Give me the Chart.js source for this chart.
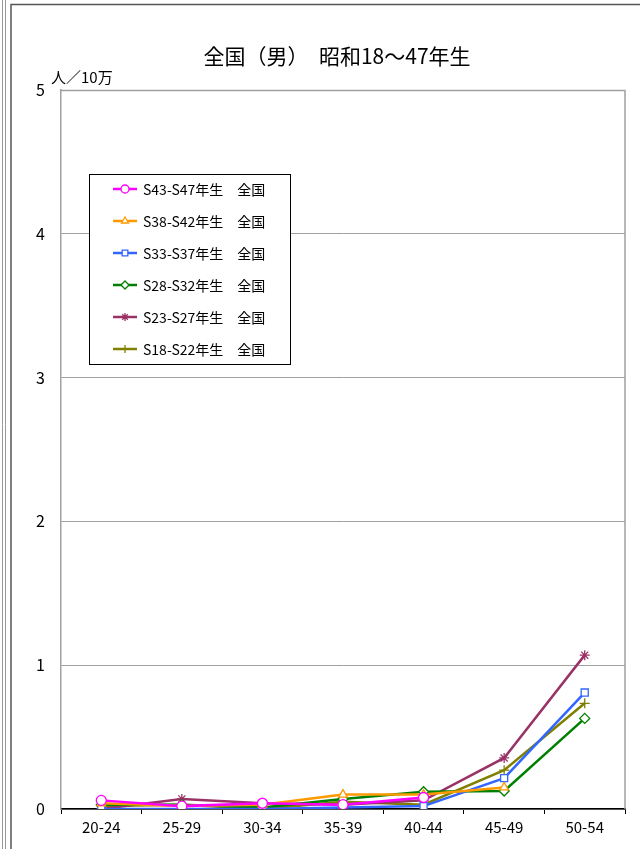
<!DOCTYPE html>
<html>
<head>
<meta charset="utf-8">
<script src="https://cdn.jsdelivr.net/npm/chart.js@4.4.1/dist/chart.umd.min.js"></script>
<style>
  html, body { margin: 0; padding: 0; background: #fff; }
  #wrap { position: relative; width: 640px; height: 849px; }
</style>
</head>
<body>
<div id="wrap"><canvas id="myChart" width="640" height="849"></canvas></div>
<script>
// 年齢階級
var ageGroups = ['20-24', '25-29', '30-34', '35-39', '40-44', '45-49', '50-54'];
var yTicks = [0, 1, 2, 3, 4, 5];

// 人／10万
var s43_47 = [0.06, 0.02, 0.04, 0.03, 0.08, null, null];
var s38_42 = [0.04, 0.02, 0.03, 0.10, 0.10, 0.15, null];
var s33_37 = [0.00, 0.00, 0.00, 0.01, 0.02, 0.215, 0.81];
var s28_32 = [0.03, 0.03, 0.01, 0.07, 0.12, 0.125, 0.63];
var s23_27 = [0.00, 0.07, 0.04, 0.03, 0.06, 0.355, 1.07];
var s18_22 = [0.02, 0.03, 0.00, 0.05, 0.03, 0.27, 0.735];

var seriesLabels = ['S43-S47年生　全国', 'S38-S42年生　全国', 'S33-S37年生　全国',
                    'S28-S32年生　全国', 'S23-S27年生　全国', 'S18-S22年生　全国'];
var seriesColors = ['#ff00ff', '#ff9900', '#3366ff', '#008000', '#993366', '#808000'];
var seriesMarks = ['circle', 'triangle', 'rect', 'rectRot', 'star', 'cross'];
var seriesData = [s43_47, s38_42, s33_37, s28_32, s23_27, s18_22];

var FONT = '"Noto Sans CJK JP", "Noto Sans", sans-serif';

var datasets = [];
for (var i = 0; i < seriesData.length; i++) {
  datasets.push({
    label: seriesLabels[i],
    data: seriesData[i],
    borderColor: seriesColors[i],
    backgroundColor: '#ffffff',
    pointBorderColor: seriesColors[i],
    pointBackgroundColor: '#ffffff',
    pointStyle: seriesMarks[i],
    pointRadius: 5,
    pointBorderWidth: 1.3,
    borderWidth: 2.5,
    tension: 0,
    spanGaps: false
  });
}

// 外枠、タイトル、単位、凡例
var decor = {
  id: 'decor',
  beforeDraw: function(chart) {
    var c = chart.ctx;
    c.save();
    c.fillStyle = '#fff';
    c.fillRect(0, 0, chart.width, chart.height);
    c.strokeStyle = '#999';
    c.lineWidth = 1;
    c.beginPath();
    c.moveTo(2.5, 0); c.lineTo(2.5, 849);
    c.moveTo(5.5, 0); c.lineTo(5.5, 849);
    c.stroke();
    c.strokeStyle = '#555';
    c.lineWidth = 1.5;
    c.beginPath();
    c.moveTo(11, 849); c.lineTo(11, 4.5); c.lineTo(640, 4.5);
    c.stroke();
    c.restore();
  },
  afterDraw: function(chart) {
    var c = chart.ctx;
    var a = chart.chartArea;
    c.save();
    // 上・右の枠
    c.strokeStyle = '#a0a0a0';
    c.lineWidth = 1.5;
    c.beginPath();
    c.moveTo(a.left, a.top + 0.5); c.lineTo(a.right, a.top + 0.5); c.lineTo(a.right, a.bottom);
    c.stroke();

    c.fillStyle = '#000';
    c.textBaseline = 'middle';
    c.textAlign = 'center';
    c.font = '21px ' + FONT;
    c.fillText('全国（男）　昭和18～47年生', 337, 56);
    c.textAlign = 'left';
    c.font = '15px ' + FONT;
    c.fillText('人／10万', 51, 77);

    // 凡例
    var lx = 89, ly = 174, lw = 201, lh = 190;
    c.fillStyle = '#fff';
    c.fillRect(lx, ly, lw, lh);
    c.strokeStyle = '#000';
    c.lineWidth = 1;
    c.strokeRect(lx + 0.5, ly + 0.5, lw, lh);
    c.font = '14px ' + FONT;
    chart.data.datasets.forEach(function(ds, k) {
      var y = 189 + k * 32;
      c.strokeStyle = ds.borderColor;
      c.lineWidth = 2.5;
      c.beginPath();
      c.moveTo(113, y); c.lineTo(137, y);
      c.stroke();
      c.fillStyle = '#fff';
      c.strokeStyle = ds.borderColor;
      c.lineWidth = 1.3;
      Chart.helpers.drawPoint(c, {pointStyle: ds.pointStyle, radius: 4, borderWidth: 1.3, rotation: 0}, 125, y);
      c.fillStyle = '#000';
      c.fillText(ds.label, 143, y + 1);
    });
    c.restore();
  }
};

new Chart(document.getElementById('myChart'), {
  type: 'line',
  data: { labels: ageGroups, datasets: datasets },
  options: {
    responsive: false,
    animation: false,
    layout: { padding: { left: 0, right: 15, top: 90, bottom: 0 } },
    plugins: {
      legend: { display: false },
      title: { display: false },
      tooltip: { enabled: false }
    },
    scales: {
      x: {
        offset: true,
        grid: { offset: true, drawOnChartArea: false, drawTicks: true, tickLength: 5, color: '#000' },
        border: { color: '#000', width: 1.5 },
        ticks: { color: '#000', font: { family: FONT, size: 15 }, padding: 4, maxRotation: 0 },
        afterFit: function(s) { s.height = 40; }
      },
      y: {
        min: 0,
        max: 5,
        afterBuildTicks: function(s) { s.ticks = yTicks.map(function(v) { return { value: v }; }); },
        grid: { color: '#a0a0a0', lineWidth: 1, drawTicks: false },
        border: { color: '#a0a0a0', width: 1.5 },
        ticks: { color: '#000', font: { family: FONT, size: 16 }, padding: 16 },
        afterFit: function(s) { s.width = 61; }
      }
    }
  },
  plugins: [decor]
});
</script>
</body>
</html>
